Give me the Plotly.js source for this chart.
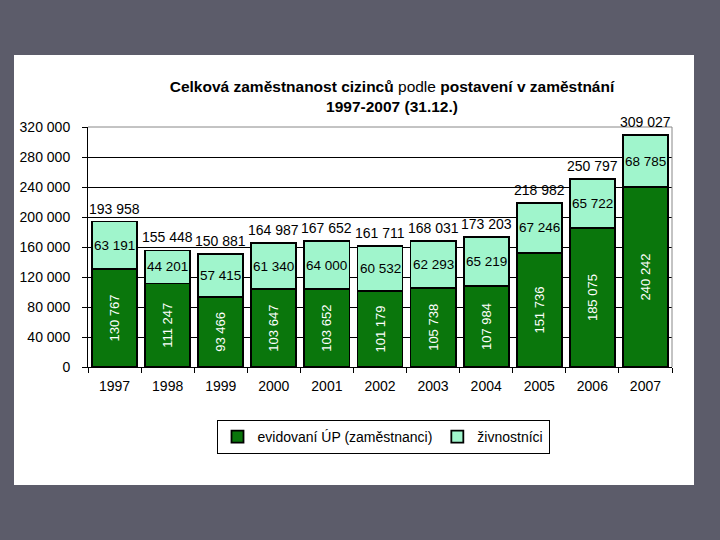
<!DOCTYPE html>
<html>
<head>
<meta charset="utf-8">
<script src="https://cdn.plot.ly/plotly-3.0.1.min.js"></script>
<style>html,body{margin:0;padding:0;background:#5c5c6a;}#chart{width:720px;height:540px;}</style>
</head>
<body>
<div id="chart"></div>
<script>
const years = ['1997','1998','1999','2000','2001','2002','2003','2004','2005','2006','2007'];
const employees = [130767,111247,93466,103647,103652,101179,105738,107984,151736,185075,240242];
const tradesmen = [63191,44201,57415,61340,64000,60532,62293,65219,67246,65722,68785];
const totals = [193958,155448,150881,164987,167652,161711,168031,173203,218982,250797,309027];
const yTicks = [0,40000,80000,120000,160000,200000,240000,280000,320000];
const seriesNames = ['evidovaní ÚP (zaměstnanci)','živnostníci'];

const FONT = 'Liberation Sans, Arial, sans-serif';
const fmt = n => n.toString().replace(/\B(?=(\d{3})+(?!\d))/g, ' ');

const traces = [
  {
    type: 'bar', name: seriesNames[0], x: years, y: employees,
    marker: {color: '#0a760c', line: {color: '#000', width: 1.8}},
    text: employees.map(fmt), textposition: 'inside', insidetextanchor: 'middle',
    textangle: -90, textfont: {color: '#fff', size: 13, family: FONT},
    hoverinfo: 'skip'
  },
  {
    type: 'bar', name: seriesNames[1], x: years, y: tradesmen,
    marker: {color: '#a0f5cc', line: {color: '#000', width: 1.8}},
    hoverinfo: 'skip'
  }
];

const annotations = [];
years.forEach((yr, i) => {
  annotations.push({
    x: i, y: employees[i] + tradesmen[i] / 2, text: fmt(tradesmen[i]),
    showarrow: false, font: {color: '#000', size: 13.5, family: FONT}
  });
  annotations.push({
    x: i, y: totals[i], text: fmt(totals[i]), yanchor: 'bottom', yshift: 3,
    showarrow: false, font: {color: '#000', size: 14, family: FONT}
  });
});

const L = 88, R = 672, T = 127, B = 367;
const pw = R - L, ph = B - T;
const px = v => (v - L) / pw;
const py = v => (B - v) / ph;

const layout = {
  width: 720, height: 540,
  margin: {l: L, r: 720 - R, t: T, b: 540 - B},
  paper_bgcolor: '#5c5c6a', plot_bgcolor: '#ffffff',
  font: {family: FONT, size: 14, color: '#000'},
  separators: ', ',
  barmode: 'stack', bargap: 0.15,
  showlegend: true,
  hovermode: false,
  title: {
    text: '<b>Celková zaměstnanost cizinců</b> podle <b>postavení v zaměstnání</b><br><b>1997-2007 (31.12.)</b>',
    font: {size: 15.5, family: FONT, color: '#000'},
    x: 392 / 720, xanchor: 'center', xref: 'container',
    y: 1 - 92 / 540, yanchor: 'middle', yref: 'container'
  },
  xaxis: {
    type: 'category', range: [-0.5, years.length - 0.5], autorange: false,
    showline: true, linecolor: '#000', linewidth: 1,
    ticks: 'outside', tickson: 'boundaries', ticklen: 5, tickcolor: '#000',
    tickangle: 0, ticklabelstandoff: 6,
    showgrid: false, tickfont: {size: 14, family: FONT}, fixedrange: true
  },
  yaxis: {
    range: [0, 320000], autorange: false, tickvals: yTicks, tickformat: ',d',
    showline: true, linecolor: '#000', linewidth: 1,
    ticks: 'outside', ticklen: 5, tickcolor: '#000',
    showgrid: true, gridcolor: '#000', gridwidth: 1, zeroline: false,
    ticklabelstandoff: 9, tickfont: {size: 14, family: FONT}, fixedrange: true
  },
  legend: {
    orientation: 'h', x: px(383), xanchor: 'center', y: py(420), yanchor: 'top',
    bgcolor: '#fff', bordercolor: '#000', borderwidth: 1,
    font: {size: 14, family: FONT}, traceorder: 'normal'
  },
  shapes: [
    {type: 'rect', xref: 'paper', yref: 'paper', x0: px(14), x1: px(694), y0: py(485), y1: py(55),
     fillcolor: '#fff', line: {width: 0}, layer: 'below'},
    {type: 'line', xref: 'paper', yref: 'paper', x0: 0, x1: 1, y0: 1, y1: 1,
     line: {color: '#888', width: 1}},
    {type: 'line', xref: 'paper', yref: 'paper', x0: 1, x1: 1, y0: 0, y1: 1,
     line: {color: '#888', width: 1}}
  ],
  annotations: annotations
};

Plotly.newPlot('chart', traces, layout, {staticPlot: true, displayModeBar: false});
</script>
</body>
</html>
